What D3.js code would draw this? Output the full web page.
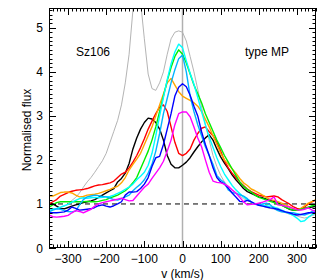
<!DOCTYPE html>
<html><head><meta charset="utf-8">
<script src="https://cdn.jsdelivr.net/npm/d3@7"></script>
<style>body{margin:0;background:#fff}svg{display:block}text{font-family:"Liberation Sans",Arial,sans-serif}</style>
</head><body><svg id="c" width="327" height="280"></svg>
<script>
const velocity = d3.range(-350, 351, 10);
const xTicks = [-300, -200, -100, 0, 100, 200, 300];
const yTicks = [0, 1, 2, 3, 4, 5];
const seriesNames = ["gray", "black", "red", "orange", "green", "cyan", "skyblue", "blue", "magenta"];
const seriesColors = ["#b4b4b4", "#000000", "#ff0000", "#ffa500", "#00ee00", "#00ffff", "#00b4ff", "#0000ff", "#ff00ff"];

const gray = [0.88,0.9,0.88,0.92,0.95,1.0,1.08,1.15,1.25,1.38,1.5,1.6,1.72,1.85,1.98,2.15,2.4,2.65,2.9,3.25,3.75,4.4,5.4,6.2,5.6,4.75,3.95,3.62,3.58,3.75,4.0,4.4,4.75,4.9,4.93,4.9,4.7,4.35,4.0,3.6,3.2,2.8,2.45,2.1,1.85,1.65,1.5,1.4,1.32,1.25,1.18,1.12,1.08,1.04,1.0,0.97,0.95,0.92,0.9,0.88,0.86,0.83,0.8,0.77,0.75,0.73,0.7,0.68,0.7,0.74,0.76];
const black = [1.02,1.0,0.95,0.9,0.89,0.92,0.95,0.98,1.0,1.03,1.05,1.07,1.1,1.15,1.2,1.25,1.3,1.35,1.5,1.58,1.7,1.92,2.25,2.5,2.7,2.85,2.95,2.93,2.85,2.7,2.45,2.1,1.9,1.82,1.82,1.88,1.95,2.05,2.18,2.3,2.41,2.5,2.57,2.45,2.25,2.07,1.93,1.8,1.66,1.55,1.45,1.35,1.28,1.24,1.2,1.16,1.14,1.11,1.08,1.06,1.03,0.98,0.93,0.88,0.86,0.86,0.88,0.9,0.92,0.93,0.95];
const red = [1.0,1.05,1.1,1.18,1.22,1.26,1.29,1.31,1.32,1.33,1.35,1.38,1.41,1.43,1.44,1.46,1.48,1.52,1.6,1.68,1.72,1.82,1.95,2.1,2.28,2.48,2.7,2.88,3.05,3.2,3.25,3.1,2.75,2.4,2.15,2.1,2.15,2.25,2.45,2.6,2.72,2.75,2.64,2.55,2.4,2.2,1.98,1.82,1.7,1.6,1.5,1.42,1.34,1.28,1.24,1.2,1.18,1.16,1.17,1.18,1.16,1.1,1.05,1.0,0.94,0.9,0.89,0.93,1.0,1.05,1.09];
const orange = [1.18,1.18,1.22,1.26,1.27,1.27,1.25,1.2,1.16,1.17,1.2,1.21,1.22,1.24,1.27,1.3,1.33,1.37,1.4,1.48,1.6,1.77,1.9,2.02,2.15,2.35,2.55,2.75,3.0,3.25,3.5,3.75,3.85,3.7,3.55,3.45,3.4,3.35,3.3,3.22,3.1,2.92,2.75,2.55,2.35,2.15,2.0,1.9,1.8,1.7,1.58,1.48,1.42,1.34,1.3,1.25,1.2,1.15,1.1,1.08,1.05,1.02,0.98,0.94,0.89,0.86,0.9,0.96,1.02,1.06,1.1];
const green = [0.93,0.98,1.03,1.05,1.05,1.05,1.05,1.05,1.05,1.05,1.06,1.05,1.05,1.06,1.08,1.1,1.14,1.17,1.2,1.25,1.3,1.38,1.48,1.6,1.8,2.0,2.2,2.45,2.75,3.1,3.45,3.8,4.1,4.35,4.5,4.4,4.2,3.95,3.7,3.5,3.3,3.05,2.85,2.65,2.45,2.28,2.1,1.95,1.8,1.65,1.5,1.4,1.33,1.27,1.2,1.15,1.12,1.09,1.06,1.03,1.0,0.97,0.93,0.89,0.86,0.86,0.88,0.9,0.93,0.96,0.98];
const cyan = [0.86,0.88,0.9,0.93,0.96,0.99,1.04,1.08,1.12,1.14,1.13,1.14,1.15,1.14,1.15,1.16,1.17,1.2,1.24,1.28,1.33,1.38,1.45,1.55,1.63,1.72,1.88,2.15,2.55,3.0,3.42,3.82,4.18,4.45,4.63,4.55,4.25,3.97,3.72,3.42,3.1,2.8,2.52,2.28,2.05,1.85,1.68,1.55,1.42,1.32,1.24,1.16,1.1,1.05,1.01,0.98,0.97,0.96,0.94,0.93,0.9,0.86,0.82,0.78,0.74,0.68,0.6,0.62,0.7,0.76,0.8];
const skyblue = [0.82,0.86,0.89,0.88,0.85,0.83,0.82,0.84,0.98,1.1,1.16,1.18,1.2,1.19,1.17,1.16,1.13,1.1,1.09,1.12,1.16,1.2,1.3,1.38,1.45,1.55,1.7,1.9,2.2,2.6,3.05,3.4,3.75,4.05,4.3,4.38,4.0,3.45,3.1,2.8,2.55,2.3,2.1,1.9,1.65,1.55,1.48,1.32,1.26,1.24,1.21,1.18,1.12,1.05,0.99,0.98,1.0,1.02,0.98,0.9,0.85,0.82,0.81,0.8,0.8,0.78,0.76,0.75,0.78,0.83,0.86];
const blue = [0.8,0.8,0.8,0.81,0.82,0.86,0.93,0.9,0.86,0.87,0.88,0.89,0.92,0.96,0.98,0.95,0.93,0.96,1.0,1.05,1.2,1.27,1.27,1.28,1.35,1.45,1.6,1.85,2.05,2.08,2.35,2.7,3.05,3.45,3.65,3.73,3.66,3.47,3.22,3.0,2.64,2.35,2.1,1.82,1.6,1.5,1.45,1.36,1.25,1.16,1.06,1.05,1.08,1.05,1.0,0.97,0.95,0.93,0.91,0.9,0.88,0.85,0.82,0.8,0.77,0.75,0.76,0.78,0.8,0.8,0.8];
const magenta = [0.75,0.71,0.7,0.71,0.72,0.74,0.8,0.85,0.83,0.8,0.84,0.88,0.95,1.0,1.03,1.05,1.07,1.09,1.11,1.13,1.1,1.07,1.08,1.18,1.28,1.38,1.45,1.58,1.7,1.82,1.97,2.2,2.45,2.8,3.05,3.09,3.09,2.98,2.75,2.5,2.3,2.0,1.72,1.52,1.49,1.48,1.45,1.4,1.32,1.25,1.15,1.05,0.98,0.99,1.0,1.02,1.04,1.07,1.1,1.16,0.98,0.97,0.95,0.93,0.9,0.87,0.86,0.88,0.91,0.86,0.82];

const seriesValues = [gray, black, red, orange, green, cyan, skyblue, blue, magenta];

const svg = d3.select("#c");
const m = {l: 49, t: 8, r: 316, b: 248};
const x = d3.scaleLinear().domain([-350, 350]).range([m.l, m.r]);
const y = d3.scaleLinear().domain([0, 5.45]).range([m.b, m.t]);

svg.append("defs").append("clipPath").attr("id", "clip")
  .append("rect").attr("x", m.l).attr("y", m.t).attr("width", m.r - m.l).attr("height", m.b - m.t);

// reference lines
svg.append("line").attr("x1", x(0)).attr("x2", x(0)).attr("y1", m.t).attr("y2", m.b)
  .attr("stroke", "#b0b0b0").attr("stroke-width", 1.5);
svg.append("line").attr("x1", m.l).attr("x2", m.r).attr("y1", y(1)).attr("y2", y(1))
  .attr("stroke", "#000").attr("stroke-width", 1).attr("stroke-dasharray", "5,4");

const line = d3.line().x((d, i) => x(velocity[i])).y(d => y(d));
const g = svg.append("g").attr("clip-path", "url(#clip)");
seriesValues.forEach((vals, k) => {
  g.append("path").datum(vals).attr("d", line).attr("fill", "none")
    .attr("stroke", seriesColors[k]).attr("stroke-width", k === 0 ? 1 : 1.4)
    .attr("stroke-linejoin", "round");
});

// axes with inward ticks on all sides
const fmt = d => d < 0 ? "\u2212" + Math.abs(d) : String(d);
const xMinor = d3.range(-350, 351, 10);
const yMinor = d3.range(0, 5.45, 0.1);
const ax = svg.append("g");
function tick(x1, y1, x2, y2) {
  ax.append("line").attr("x1", x1).attr("y1", y1).attr("x2", x2).attr("y2", y2)
    .attr("stroke", "#000").attr("stroke-width", 1);
}
xMinor.forEach(v => {
  const major = v % 100 === 0;
  const L = major ? 7 : 3.5;
  const px = Math.round(x(v)) + 0.5;
  tick(px, m.b, px, m.b - L);
  tick(px, m.t, px, m.t + L);
});
yMinor.forEach(f => {
  const major = Math.abs(f - Math.round(f)) < 1e-6;
  const L = major ? 7 : 3.5;
  const py = Math.round(y(f)) + 0.5;
  tick(m.l, py, m.l + L, py);
  tick(m.r, py, m.r - L, py);
});
ax.append("rect").attr("x", m.l + 0.5).attr("y", m.t + 0.5).attr("width", m.r - m.l - 1).attr("height", m.b - m.t - 1)
  .attr("fill", "none").attr("stroke", "#000").attr("stroke-width", 1);

xTicks.forEach(v => {
  svg.append("text").attr("x", x(v)).attr("y", m.b + 15).attr("text-anchor", "middle")
    .attr("font-size", 12).text(fmt(v));
});
yTicks.forEach(f => {
  svg.append("text").attr("x", m.l - 6).attr("y", y(f) + 4.5).attr("text-anchor", "end")
    .attr("font-size", 12).text(fmt(f));
});

svg.append("text").attr("x", x(0)).attr("y", 277.5).attr("text-anchor", "middle")
  .attr("font-size", 12).text("v (km/s)");
svg.append("text").attr("transform", "translate(31,130) rotate(-90)").attr("text-anchor", "middle")
  .attr("font-size", 12).text("Normalised flux");
svg.append("text").attr("x", 76).attr("y", 56).attr("font-size", 12).text("Sz106");
svg.append("text").attr("x", 245).attr("y", 56).attr("font-size", 12).text("type MP");
</script></body></html>
